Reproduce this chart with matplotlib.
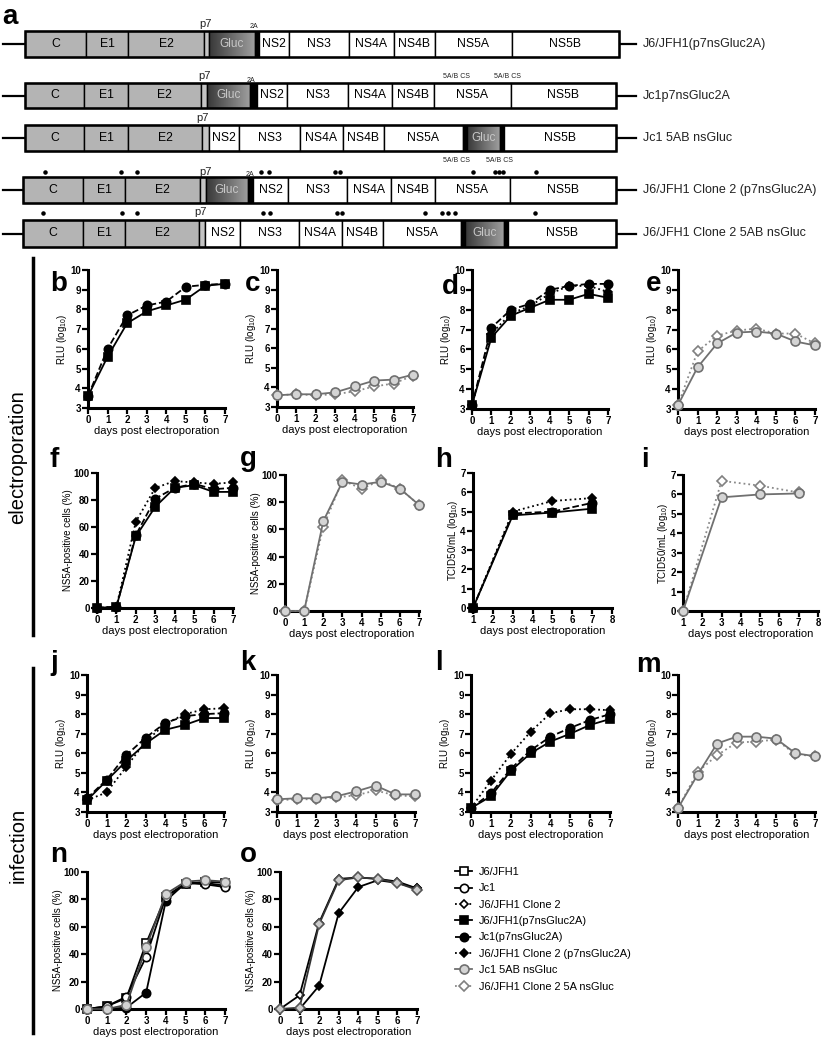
import numpy as np
import matplotlib
matplotlib.use("Agg")
import matplotlib.pyplot as plt
from matplotlib.lines import Line2D
from matplotlib.patches import Rectangle

plt.rcParams['font.family'] = ['Liberation Sans', 'DejaVu Sans']
plt.rcParams['mathtext.default'] = 'regular'

W, H = 834, 1050

# ---------------- data ----------------
DAYS = [0, 1, 2, 3, 4, 5, 6, 7]
TCID_DAYS = [1, 3, 5, 7]

SERIES = ["J6/JFH1", "Jc1", "J6/JFH1 Clone 2", "J6/JFH1(p7nsGluc2A)",
          "Jc1(p7nsGluc2A)", "J6/JFH1 Clone 2 (p7nsGluc2A)",
          "Jc1 5AB nsGluc", "J6/JFH1 Clone 2 5A nsGluc"]

# b
B_J6_P7 = [3.6, 5.6, 7.3, 7.9, 8.2, 8.5, 9.2, 9.3]
B_JC1_P7 = [3.6, 6.0, 7.7, 8.2, 8.4, 9.15, 9.25, 9.3]
# c
C_JC1_5AB = [3.6, 3.65, 3.65, 3.75, 4.05, 4.35, 4.4, 4.65]
C_CL2_5A = [3.6, 3.65, 3.6, 3.65, 3.8, 4.05, 4.2, 4.6]
# d
D_J6_P7 = [3.2, 6.6, 7.7, 8.1, 8.5, 8.5, 8.8, 8.6]
D_JC1_P7 = [3.2, 7.1, 8.0, 8.3, 9.0, 9.2, 9.3, 9.3]
D_CL2_P7 = [3.2, 6.8, 7.8, 8.2, 8.8, 9.2, 9.2, 8.9]
# e
E_JC1_5AB = [3.2, 5.1, 6.3, 6.85, 6.9, 6.8, 6.4, 6.2]
E_CL2_5A = [3.2, 5.9, 6.7, 6.95, 7.05, 6.8, 6.8, 6.3]
# f
F_J6_P7 = [0, 1, 53, 75, 89, 91, 86, 86]
F_JC1_P7 = [0, 1, 54, 81, 89, 92, 88, 89]
F_CL2_P7 = [0, 1, 64, 89, 94, 93, 92, 93]
# g
G_JC1_5AB = [0, 0, 66, 95, 93, 95, 90, 78]
G_CL2_5A = [0, 0, 62, 96, 90, 96, 90, 78]
# h
H_J6_P7 = [0, 4.8, 4.95, 5.15]
H_JC1_P7 = [0, 4.9, 5.0, 5.45]
H_CL2_P7 = [0, 5.0, 5.55, 5.7]
# i
I_JC1_5AB = [0, 5.85, 6.0, 6.05]
I_CL2_5A = [0, 6.7, 6.45, 6.1]
# j
J_J6_P7 = [3.6, 4.6, 5.6, 6.5, 7.2, 7.45, 7.8, 7.8]
J_JC1_P7 = [3.7, 4.65, 5.9, 6.8, 7.55, 7.9, 8.0, 8.05]
J_CL2_P7 = [3.6, 4.0, 5.3, 6.6, 7.5, 8.0, 8.25, 8.3]
# k
K_JC1_5AB = [3.65, 3.7, 3.7, 3.8, 4.05, 4.35, 3.9, 3.9]
K_CL2_5A = [3.6, 3.65, 3.65, 3.75, 3.85, 4.1, 3.85, 3.8]
# l
L_J6_P7 = [3.2, 3.8, 5.1, 6.0, 6.6, 7.0, 7.45, 7.75]
L_JC1_P7 = [3.2, 3.95, 5.2, 6.15, 6.85, 7.3, 7.7, 8.0]
L_CL2_P7 = [3.2, 4.6, 5.95, 7.1, 8.05, 8.25, 8.25, 8.2]
# m
M_JC1_5AB = [3.2, 4.9, 6.5, 6.85, 6.85, 6.75, 6.0, 5.85]
M_CL2_5A = [3.2, 5.05, 5.9, 6.55, 6.6, 6.7, 5.95, 5.85]
# n
N_J6 = [0, 2, 8, 48, 82, 91, 93, 92]
N_JC1 = [0, 2, 9, 38, 82, 92, 91, 89]
N_JC1_P7 = [0, 0, 1, 12, 79, 92, 92, 90]
N_JC1_5AB = [0, 0, 3, 45, 84, 93, 94, 93]
# o
O_CL2 = [0, 10, 63, 95, 96, 95, 93, 88]
O_CL2_P7 = [0, 0, 17, 70, 89, 94, 92, 88]
O_CL2_5A = [0, 1, 62, 94, 96, 95, 92, 87]

# genome maps (segment names and pixel boundaries)
ROW_A_NAMES = ["C", "E1", "E2", "p7", "Gluc", "2A", "NS2", "NS3", "NS4A", "NS4B", "NS5A", "NS5B"]
ROW_B_NAMES = ["C", "E1", "E2", "p7", "NS2", "NS3", "NS4A", "NS4B", "NS5A", "|", "Gluc", "|", "NS5B"]
GENOME_ROWS = [
    ("J6/JFH1(p7nsGluc2A)", ROW_A_NAMES, [25, 86, 128, 204, 209, 255, 259, 289, 349, 394, 435, 512, 619], 31, 57),
    ("Jc1p7nsGluc2A", ROW_A_NAMES, [25, 84, 128, 201, 207, 250, 257, 287, 348, 392, 434, 511, 616], 83, 108),
    ("Jc1 5AB nsGluc", ROW_B_NAMES, [25, 84, 128, 202, 209, 239, 300, 343, 384, 463, 467, 500, 504, 616], 125, 151),
    ("J6/JFH1 Clone 2 (p7nsGluc2A)", ROW_A_NAMES, [23, 83, 125, 200, 206, 248, 253, 288, 347, 391, 435, 510, 616], 177, 203),
    ("J6/JFH1 Clone 2 5AB nsGluc", ROW_B_NAMES, [23, 83, 125, 199, 205, 240, 299, 342, 383, 461, 465, 504, 508, 616], 220, 247),
]
STARS_ROW4_X = [45, 121, 137, 261, 269, 335, 340, 473, 495, 499, 503, 536]
STARS_ROW5_X = [43, 122, 137, 263, 270, 337, 342, 425, 442, 448, 455, 535]
SMALL_LABELS = [("p7", 205, 24, 8), ("2A", 254, 27, 5),
                ("p7", 204, 76, 8), ("2A", 251, 80, 5), ("5A/B CS", 457, 77, 5), ("5A/B CS", 508, 77, 5),
                ("p7", 202, 118, 8), ("5A/B CS", 457, 160, 5), ("5A/B CS", 500, 160, 5),
                ("p7", 205, 172, 8), ("2A", 250, 174, 5),
                ("p7", 200, 212, 8)]

# ---------------- styles ----------------
BLK = 'black'
GRY = '#707070'
STYLE = {
    "J6/JFH1": dict(marker='s', ms=5.5, mfc='white', mec=BLK, color=BLK, ls='-'),
    "Jc1": dict(marker='o', ms=6, mfc='white', mec=BLK, color=BLK, ls='-'),
    "J6/JFH1 Clone 2": dict(marker='D', ms=4.2, mfc='white', mec=BLK, color=BLK, ls=':'),
    "J6/JFH1(p7nsGluc2A)": dict(marker='s', ms=5.5, mfc=BLK, mec=BLK, color=BLK, ls='-'),
    "Jc1(p7nsGluc2A)": dict(marker='o', ms=6, mfc=BLK, mec=BLK, color=BLK, ls='--'),
    "J6/JFH1 Clone 2 (p7nsGluc2A)": dict(marker='D', ms=4.2, mfc=BLK, mec=BLK, color=BLK, ls=':'),
    "Jc1 5AB nsGluc": dict(marker='o', ms=6.5, mfc='#d4d4d4', mec=GRY, color=GRY, ls='-'),
    "J6/JFH1 Clone 2 5A nsGluc": dict(marker='D', ms=5, mfc='white', mec='#808080', color='#8a8a8a', ls=':'),
}

fig = plt.figure(figsize=(W / 100, H / 100), dpi=100)

# overlay axes in pixel coordinates for the schematic / annotations
ov = fig.add_axes([0, 0, 1, 1])
ov.set_xlim(0, W)
ov.set_ylim(H, 0)
ov.axis('off')

# ---------- panel a: genome maps ----------
SEG_FILL = {"C": '#b4b4b4', "E1": '#b4b4b4', "E2": '#b4b4b4', "p7": '#c4c4c4',
            "2A": 'black', "|": 'black'}
grad = np.linspace(0.22, 0.62, 64).reshape(1, -1)
for name, segs, bounds, yt, yb in GENOME_ROWS:
    yc = (yt + yb) / 2
    ov.plot([3, bounds[0]], [yc, yc], color='black', lw=1.6, zorder=1)
    ov.plot([bounds[-1], 636], [yc, yc], color='black', lw=1.6, zorder=1)
    for s, x0, x1 in zip(segs, bounds[:-1], bounds[1:]):
        if s == "Gluc":
            ov.imshow(grad, extent=(x0, x1, yb, yt), cmap='gray', vmin=0, vmax=1,
                      aspect='auto', zorder=2, interpolation='bilinear')
            ov.add_patch(Rectangle((x0, yt), x1 - x0, yb - yt, fill=False, ec='black', lw=1.0, zorder=3))
            ov.text((x0 + x1) / 2, yc, "Gluc", ha='center', va='center', fontsize=8.5,
                    color='#c8c8c8', zorder=4)
        else:
            fc = SEG_FILL.get(s, 'white')
            ov.add_patch(Rectangle((x0, yt), x1 - x0, yb - yt, fc=fc, ec='black', lw=1.0, zorder=2))
            if s not in ("p7", "2A", "|"):
                ov.text((x0 + x1) / 2, yc, s, ha='center', va='center', fontsize=8.8,
                        color='black', zorder=4)
    ov.add_patch(Rectangle((bounds[0], yt), bounds[-1] - bounds[0], yb - yt, fill=False,
                           ec='black', lw=1.8, zorder=5))
    ov.text(643, yc, name, ha='left', va='center', fontsize=9, color='#222222')

for t, x, y, fs in SMALL_LABELS:
    ov.text(x, y, t, ha='center', va='center', fontsize=fs, color='#222222')
ov.scatter(STARS_ROW4_X, [172] * len(STARS_ROW4_X), s=5, color='black', zorder=5)
ov.scatter(STARS_ROW5_X, [213] * len(STARS_ROW5_X), s=5, color='black', zorder=5)
ov.text(2, 4, "a", ha='left', va='top', fontsize=20, fontweight='bold')

# ---------- side labels ----------
ov.plot([33, 33], [258, 635], color='black', lw=2.5)
ov.plot([33, 33], [668, 1033], color='black', lw=2.5)
ov.text(18, 457, "electroporation", rotation=90, ha='center', va='center', fontsize=14.5)
ov.text(18, 845, "infection", rotation=90, ha='center', va='center', fontsize=14.5)

# ---------- panel helper ----------
RLU = 'RLU (log$_{10}$)'
PCT = 'NS5A-positive cells (%)'
TCID = 'TCID50/mL (log$_{10}$)'


def make_panel(x0, x1, yt, yb, xlim, ylim, xticks, yticks, ylabel):
    ax = fig.add_axes([x0 / W, 1 - yb / H, (x1 - x0) / W, (yb - yt) / H])
    ax.set_xlim(*xlim)
    ax.set_ylim(*ylim)
    ax.patch.set_alpha(0)
    for sp in ('top', 'right'):
        ax.spines[sp].set_visible(False)
    for sp in ('left', 'bottom'):
        ax.spines[sp].set_linewidth(2.2)
    ax.set_xticks(xticks)
    ax.set_yticks(yticks)
    ax.tick_params(direction='out', length=4, width=1.6, pad=1.2, labelsize=7)
    for lab in ax.get_xticklabels() + ax.get_yticklabels():
        lab.set_fontweight('bold')
    ax.set_xlabel('days post electroporation', fontsize=8, labelpad=0.5)
    ax.set_ylabel(ylabel, fontsize=7, labelpad=0.5)
    return ax


def draw(ax, x, y, key, **over):
    st = dict(STYLE[key])
    st.update(over)
    ax.plot(x, y, lw=1.3, mew=1.2, clip_on=False, zorder=3, **st)


RLU_TICKS = list(range(3, 11))
PCT_TICKS = [0, 20, 40, 60, 80, 100]

# b
ax = make_panel(88, 225, 270, 408, (0, 7), (3, 10), DAYS, RLU_TICKS, RLU)
draw(ax, DAYS, B_J6_P7, SERIES[3]); draw(ax, DAYS, B_JC1_P7, SERIES[4])
# c
ax = make_panel(277, 413, 270, 407, (0, 7), (3, 10), DAYS, RLU_TICKS, RLU)
draw(ax, DAYS, C_CL2_5A, SERIES[7]); draw(ax, DAYS, C_JC1_5AB, SERIES[6])
# d
ax = make_panel(472, 608, 270, 409, (0, 7), (3, 10), DAYS, RLU_TICKS, RLU)
draw(ax, DAYS, D_CL2_P7, SERIES[5]); draw(ax, DAYS, D_J6_P7, SERIES[3]); draw(ax, DAYS, D_JC1_P7, SERIES[4])
# e
ax = make_panel(678, 815, 270, 409, (0, 7), (3, 10), DAYS, RLU_TICKS, RLU)
draw(ax, DAYS, E_CL2_5A, SERIES[7]); draw(ax, DAYS, E_JC1_5AB, SERIES[6])
# f
ax = make_panel(97, 233, 473, 608, (0, 7), (0, 100), DAYS, PCT_TICKS, PCT)
draw(ax, DAYS, F_CL2_P7, SERIES[5]); draw(ax, DAYS, F_J6_P7, SERIES[3]); draw(ax, DAYS, F_JC1_P7, SERIES[4])
# g
ax = make_panel(285, 419, 475, 611, (0, 7), (0, 100), DAYS, PCT_TICKS, PCT)
draw(ax, DAYS, G_CL2_5A, SERIES[7]); draw(ax, DAYS, G_JC1_5AB, SERIES[6])
# h
ax = make_panel(473, 612, 473, 608, (1, 8), (0, 7), list(range(1, 9)), list(range(0, 8)), TCID)
draw(ax, TCID_DAYS, H_CL2_P7, SERIES[5]); draw(ax, TCID_DAYS, H_J6_P7, SERIES[3]); draw(ax, TCID_DAYS, H_JC1_P7, SERIES[4])
# i
ax = make_panel(683, 818, 475, 611, (1, 8), (0, 7), list(range(1, 9)), list(range(0, 8)), TCID)
draw(ax, TCID_DAYS, I_CL2_5A, SERIES[7]); draw(ax, TCID_DAYS, I_JC1_5AB, SERIES[6])
# j
ax = make_panel(87, 224, 675, 812, (0, 7), (3, 10), DAYS, RLU_TICKS, RLU)
draw(ax, DAYS, J_CL2_P7, SERIES[5]); draw(ax, DAYS, J_J6_P7, SERIES[3]); draw(ax, DAYS, J_JC1_P7, SERIES[4])
# k
ax = make_panel(277, 415, 675, 812, (0, 7), (3, 10), DAYS, RLU_TICKS, RLU)
draw(ax, DAYS, K_CL2_5A, SERIES[7]); draw(ax, DAYS, K_JC1_5AB, SERIES[6])
# l
ax = make_panel(471, 610, 675, 812, (0, 7), (3, 10), DAYS, RLU_TICKS, RLU)
draw(ax, DAYS, L_CL2_P7, SERIES[5]); draw(ax, DAYS, L_J6_P7, SERIES[3]); draw(ax, DAYS, L_JC1_P7, SERIES[4])
# m
ax = make_panel(678, 815, 675, 812, (0, 7), (3, 10), DAYS, RLU_TICKS, RLU)
draw(ax, DAYS, M_CL2_5A, SERIES[7]); draw(ax, DAYS, M_JC1_5AB, SERIES[6])
# n
ax = make_panel(87, 225, 872, 1009, (0, 7), (0, 100), DAYS, PCT_TICKS, PCT)
draw(ax, DAYS, N_JC1_P7, SERIES[4], ls='-'); draw(ax, DAYS, N_J6, SERIES[0])
draw(ax, DAYS, N_JC1, SERIES[1]); draw(ax, DAYS, N_JC1_5AB, SERIES[6], color='#444444')
# o
ax = make_panel(280, 417, 872, 1009, (0, 7), (0, 100), DAYS, PCT_TICKS, PCT)
draw(ax, DAYS, O_CL2_P7, SERIES[5], ls='-')
draw(ax, DAYS, O_CL2, SERIES[2], ls='-')
draw(ax, DAYS, O_CL2_5A, SERIES[7], ls='-', color='#333333', mfc='#cccccc', mec='#555555')

# panel letters
LETTERS = [("b", 50, 291), ("c", 245, 291), ("d", 442, 294), ("e", 646, 291),
           ("f", 50, 467), ("g", 240, 466), ("h", 435, 467), ("i", 641, 467),
           ("j", 50, 670), ("k", 240, 670), ("l", 435, 670), ("m", 636, 672),
           ("n", 50, 862), ("o", 240, 862)]
for t, x, y in LETTERS:
    ov.text(x, y, t, ha='left', va='baseline', fontsize=20, fontweight='bold')

# legend
handles = []
for key in SERIES:
    st = STYLE[key]
    handles.append(Line2D([], [], lw=1.3, mew=1.2, **st))
fig.legend(handles, SERIES, loc='upper left', bbox_to_anchor=(455 / W, 1 - 867 / H),
           frameon=False, fontsize=7.9, handlelength=1.55, handletextpad=0.6,
           labelspacing=0.58, borderpad=0, borderaxespad=0, numpoints=1)

fig.savefig('out.png', dpi=100)
